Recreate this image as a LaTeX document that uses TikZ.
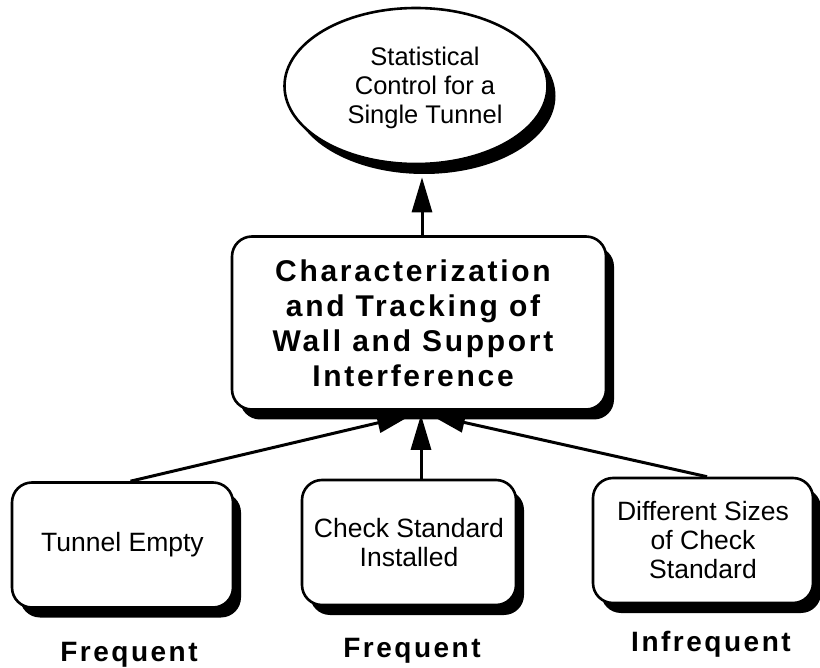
\documentclass[tikz,border=0pt]{standalone}
\usepackage{fontspec}
\setmainfont{Liberation Sans}
\usetikzlibrary{shapes.geometric,arrows.meta,shadows}
\begin{document}
\begin{tikzpicture}[x=1pt,y=-1pt,
  solid shadow/.style={general shadow={fill=black, shadow xshift=8pt, shadow yshift=-10pt}},
  box/.style={draw, line width=2.6pt, fill=white, rounded corners=20pt,
    solid shadow, inner sep=0pt, align=center},
  oval/.style={ellipse, draw, line width=2.6pt, fill=white, solid shadow,
    inner sep=0pt, minimum width=263pt, minimum height=156pt},
  ovaltext/.style={inner sep=0pt, align=center,
    font=\fontsize{25.5}{29}\selectfont},
  maintext/.style={inner sep=0pt, align=center,
    font=\fontsize{30}{35}\selectfont\bfseries\addfontfeature{LetterSpace=9}},
  smallbox/.style={box, minimum height=125pt,
    font=\fontsize{26.5}{29}\selectfont},
  freq/.style={anchor=base, inner sep=0pt,
    font=\fontsize{28}{30}\selectfont\bfseries\addfontfeature{LetterSpace=9}},
  conn/.style={line width=3pt, -{Triangle[length=35pt,width=20pt]}}]
\useasboundingbox (0,0) rectangle (820,668);

% goal at the top
\node[oval] (ell) at (416,86) {};
\node[ovaltext] (ellt) at (425,88) {Statistical\\Control for a\\Single Tunnel};

% central activity
\node[box, minimum width=374pt, minimum height=173pt] (main) at (419,323) {};
\node[maintext] (maint) at (413,323)
  {Characterization\\and Tracking of\\Wall and Support\\Interference};

% measurement conditions
\node[smallbox, minimum width=221pt] (te) at (122.5,545) {Tunnel Empty};
\node[smallbox, minimum width=214pt] (cs) at (409,542.5) {Check Standard\\Installed};
\node[smallbox, minimum width=220pt] (ds) at (703,540.5) {Different Sizes\\of Check\\Standard};

% how often each condition is run
\node[freq] (f1) at (129,661) {Frequent};
\node[freq] (f2) at (412,657) {Frequent};
\node[freq] (f3) at (711,651) {Infrequent};

% connectors
\draw[conn] ([xshift=3pt]main.north) -- ([xshift=6pt,yshift=-12pt]ell.south);
\draw[conn] ([xshift=8pt]te.north) -- ([xshift=-7pt,yshift=-4pt]main.south);
\draw[conn] ([xshift=12pt]cs.north) -- ([xshift=2pt,yshift=-4pt]main.south);
\draw[conn] ([xshift=4pt]ds.north) -- ([xshift=11pt,yshift=-4pt]main.south);
\end{tikzpicture}
\end{document}
